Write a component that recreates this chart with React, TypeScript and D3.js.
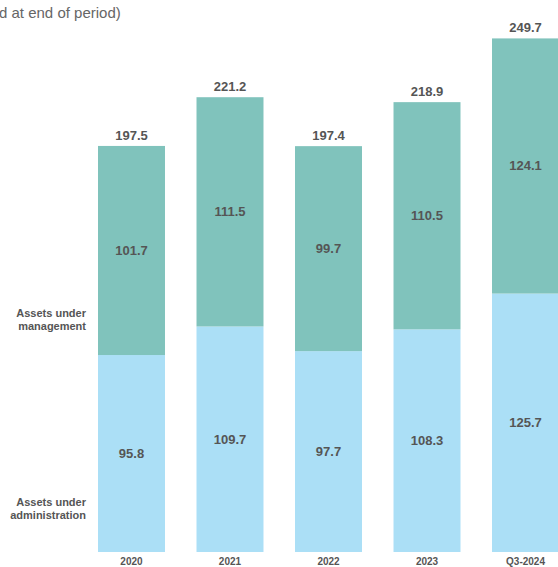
import * as d3 from "d3";

const categories = ["2020", "2021", "2022", "2023", "Q3-2024"];
const aua = [95.8, 109.7, 97.7, 108.3, 125.7];
const aum = [101.7, 111.5, 99.7, 110.5, 124.1];
const totals = [197.5, 221.2, 197.4, 218.9, 249.7];

const W = 558;
const H = 567;
const AUM_COLOR = "#80c3bc";
const AUA_COLOR = "#abdff6";
const TEXT = "#555555";
const FONT = "'Liberation Sans', Arial, Helvetica, sans-serif";

export default function App() {
  const x = d3
    .scaleBand<string>()
    .domain(categories)
    .range([98, 559])
    .paddingInner(0.32)
    .paddingOuter(0);
  // single linear scale; original artwork is slightly uneven, this is a compromise
  const y = d3.scaleLinear().domain([0, 250]).range([552, 38]);

  const rows = categories.map((c, i) => ({
    cat: c,
    aua: aua[i],
    aum: aum[i],
    total: totals[i],
  }));

  return (
    <svg
      width={W}
      height={H}
      style={{ position: "absolute", left: 0, top: 0, fontFamily: FONT }}
    >
      <rect width={W} height={H} fill="#ffffff" />
      <text x={-1} y={18} fontSize={15} fill="#666666">
        d at end of period)
      </text>

      {rows.map((d) => {
        const x0 = x(d.cat) ?? 0;
        const bw = x.bandwidth();
        const cx = x0 + bw / 2;
        const yAua = y(d.aua);
        const yTop = y(d.aua + d.aum);
        return (
          <g key={d.cat}>
            <rect x={x0} y={yAua} width={bw} height={y(0) - yAua} fill={AUA_COLOR} />
            <rect x={x0} y={yTop} width={bw} height={yAua - yTop} fill={AUM_COLOR} />
            <text
              x={cx}
              y={(y(0) + yAua) / 2}
              textAnchor="middle"
              dominantBaseline="central"
              fontSize={13}
              fontWeight="bold"
              fill={TEXT}
            >
              {d.aua.toFixed(1)}
            </text>
            <text
              x={cx}
              y={(yAua + yTop) / 2}
              textAnchor="middle"
              dominantBaseline="central"
              fontSize={13}
              fontWeight="bold"
              fill={TEXT}
            >
              {d.aum.toFixed(1)}
            </text>
            <text
              x={cx}
              y={yTop - 6}
              textAnchor="middle"
              fontSize={13}
              fontWeight="bold"
              fill={TEXT}
            >
              {d.total.toFixed(1)}
            </text>
            <text
              x={cx}
              y={565}
              textAnchor="middle"
              fontSize={10}
              fontWeight="bold"
              fill={TEXT}
            >
              {d.cat}
            </text>
          </g>
        );
      })}

      <g fontSize={11} fontWeight="bold" fill={TEXT} textAnchor="end">
        <text x={86} y={317}>Assets under</text>
        <text x={86} y={330}>management</text>
        <text x={86} y={506}>Assets under</text>
        <text x={86} y={519}>administration</text>
      </g>
    </svg>
  );
}
